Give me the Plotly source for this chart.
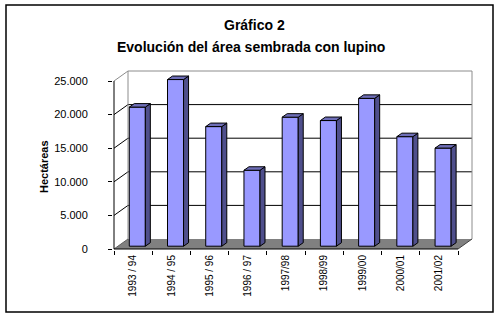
import plotly.graph_objects as go

# ---- data ----
categories = ["1993 / 94", "1994 / 95", "1995 / 96", "1996 / 97", "1997/98",
              "1998/99", "1999/00", "2000/01", "2001/02"]
hectareas = [20700, 24800, 17800, 11300, 19200, 18700, 22000, 16300, 14600]
y_ticks = [0, 5000, 10000, 15000, 20000, 25000]
y_tick_labels = ["0", "5.000", "10.000", "15.000", "20.000", "25.000"]

W, H = 503, 319
FONT = "Arial, 'Liberation Sans', sans-serif"

# pixel geometry of the pseudo-3D frame
n = len(categories)
PX_X = 344 / n                 # px per category on the front plane
UY = 25000 / 168               # value units per px
DX = 14 / PX_X                 # depth offset (x units)
DY = 10 * UY                   # depth offset (y units)
BASE = 2.8 * UY                # bar front bottom above front floor edge
BAR_L, BAR_W = -0.10, 0.42     # bar front face offset / width
SDX, SDY = 5 / PX_X, 3.5 * UY  # bar depth

ML, MR, MT, MB = 113, 30, 69, 69
PW, PH = W - ML - MR, H - MT - MB
x0 = -0.5 - 1 / PX_X
x1 = x0 + PW / PX_X
y0 = -1 * UY
y1 = y0 + PH * UY
YMAX = y_ticks[-1]

def px(p):  # pixel -> paper x
    return (p - ML) / PW

def py(p):  # pixel -> paper y
    return (H - MB - p) / PH

xs = list(range(n))
fig = go.Figure()

# front faces
fig.add_trace(go.Bar(
    x=xs, y=hectareas, base=BASE, width=BAR_W, offset=BAR_L,
    marker=dict(color="#9999FF", line=dict(color="black", width=1)),
    hoverinfo="skip", showlegend=False))

# side faces
sx, sy = [], []
for i, v in zip(xs, hectareas):
    r = i + BAR_L + BAR_W
    sx += [r, r, r + SDX, r + SDX, r, None]
    sy += [BASE, BASE + v, BASE + v + SDY, BASE + SDY, BASE, None]
fig.add_trace(go.Scatter(x=sx, y=sy, mode="lines", fill="toself",
                         fillcolor="#4F4F8C", line=dict(color="black", width=1),
                         hoverinfo="skip", showlegend=False))
# top faces
tx, ty = [], []
for i, v in zip(xs, hectareas):
    l = i + BAR_L
    r = l + BAR_W
    t = BASE + v
    tx += [l, r, r + SDX, l + SDX, l, None]
    ty += [t, t, t + SDY, t + SDY, t, None]
fig.add_trace(go.Scatter(x=tx, y=ty, mode="lines", fill="toself",
                         fillcolor="#6E6EB8", line=dict(color="black", width=1),
                         hoverinfo="skip", showlegend=False))

shapes = []
fl, fr = -0.5, n - 0.5
# floor
shapes.append(dict(type="path", xref="x", yref="y", layer="below",
                   path=f"M {fl},0 L {fr},0 L {fr+DX},{DY} L {fl+DX},{DY} Z",
                   fillcolor="#808080", line=dict(width=0)))
# gridlines (back wall + left wall diagonals)
for v in y_ticks[1:-1]:
    shapes.append(dict(type="line", xref="x", yref="y", layer="below",
                       x0=fl + DX, x1=fr + DX, y0=v + DY, y1=v + DY,
                       line=dict(color="black", width=1)))
    shapes.append(dict(type="line", xref="x", yref="y", layer="below",
                       x0=fl, x1=fl + DX, y0=v, y1=v + DY,
                       line=dict(color="black", width=1)))
# wall borders (gray)
gray = "#8C8C8C"
for a, b, c, d in [(fl + DX, DY, fl + DX, YMAX + DY),
                   (fl + DX, YMAX + DY, fr + DX, YMAX + DY),
                   (fr + DX, YMAX + DY, fr + DX, DY),
                   (fl, YMAX, fl + DX, YMAX + DY)]:
    shapes.append(dict(type="line", xref="x", yref="y", layer="below",
                       x0=a, y0=b, x1=c, y1=d, line=dict(color=gray, width=1)))
# floor right edge and left edge
shapes.append(dict(type="line", xref="x", yref="y", layer="below",
                   x0=fr, y0=0, x1=fr + DX, y1=DY, line=dict(color="#404040", width=1)))
shapes.append(dict(type="line", xref="x", yref="y", layer="below",
                   x0=fl, y0=0, x1=fl + DX, y1=DY, line=dict(color="#606060", width=1)))
# front axes
shapes.append(dict(type="line", xref="x", yref="y", layer="above",
                   x0=fl, y0=0, x1=fl, y1=YMAX, line=dict(color="black", width=1)))
shapes.append(dict(type="line", xref="x", yref="y", layer="above",
                   x0=fl, y0=0, x1=fr, y1=0, line=dict(color="black", width=1)))
# outer border
shapes.append(dict(type="rect", xref="paper", yref="paper",
                   x0=px(6), x1=px(493), y0=py(312), y1=py(5),
                   line=dict(color="black", width=1.5), fillcolor="rgba(0,0,0,0)"))

annotations = [
    dict(text="<b>Gráfico 2</b>", x=px(254), y=py(25), xref="paper", yref="paper",
         showarrow=False, xanchor="center", yanchor="middle",
         font=dict(family=FONT, size=14, color="black")),
    dict(text="<b>Evolución del área sembrada con lupino</b>", x=px(251), y=py(47),
         xref="paper", yref="paper", showarrow=False, xanchor="center", yanchor="middle",
         font=dict(family=FONT, size=14, color="black")),
    dict(text="<b>Hectáreas</b>", x=px(44), y=py(167), xref="paper", yref="paper",
         showarrow=False, textangle=-90, xanchor="center", yanchor="middle",
         font=dict(family=FONT, size=11, color="black")),
]

fig.update_layout(
    width=W, height=H,
    margin=dict(l=ML, r=MR, t=MT, b=MB, pad=0),
    paper_bgcolor="white", plot_bgcolor="white",
    shapes=shapes, annotations=annotations,
    showlegend=False,
    xaxis=dict(range=[x0, x1], tickvals=xs, ticktext=categories, tickangle=-90,
               ticks="", showgrid=False, zeroline=False, showline=False,
               tickfont=dict(family=FONT, size=10, color="black"),
               ticklabelstandoff=2,
               minor=dict(ticks="outside", ticklen=4, tickcolor="black",
                          tick0=-0.5, dtick=1, showgrid=False),
               automargin=False, fixedrange=True),
    yaxis=dict(range=[y0, y1], tickvals=y_ticks, ticktext=y_tick_labels,
               ticks="outside", ticklen=4, tickcolor="black",
               showgrid=False, zeroline=False, showline=False,
               tickfont=dict(family=FONT, size=11, color="black"),
               ticklabelstandoff=18,
               automargin=False, fixedrange=True),
)

fig.write_html("out.html", config={"displayModeBar": False})
